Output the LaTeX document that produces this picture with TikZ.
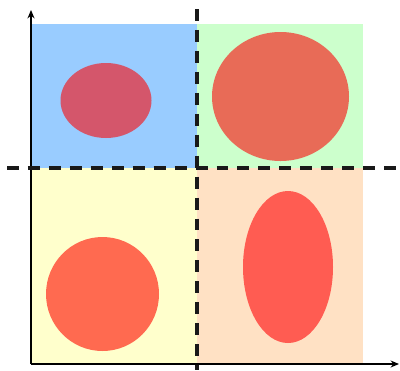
\documentclass[tikz,border=0pt]{standalone}
\usepackage{tikz}
\usetikzlibrary{arrows.meta}
\definecolor{QuadBlue}{HTML}{99CCFF}
\definecolor{QuadGreen}{HTML}{CCFFCC}
\definecolor{QuadYellow}{HTML}{FFFFCC}
\definecolor{QuadOrange}{HTML}{FFE1C4}
\definecolor{BlobPlum}{HTML}{D4566B}
\definecolor{BlobCoral}{HTML}{E86B57}
\definecolor{BlobTomato}{HTML}{FF6A50}
\definecolor{BlobRed}{HTML}{FF5C52}

\begin{document}
\begin{tikzpicture}[x=0.025cm, y=-0.025cm, axis/.style={-{Stealth[length=6pt, width=5pt]}, line width=0.8pt}, divider/.style={line width=2.5pt, dash pattern=on 8.5pt off 6.4pt, black!90}]
  \useasboundingbox (0,0) rectangle (400,370);
  \coordinate (origin) at (31,364);
  \coordinate (xend) at (399,364);
  \coordinate (yend) at (31,10);
  \coordinate (vtop) at (197,9);
  \coordinate (vbot) at (197,370);
  \coordinate (hleft) at (7,168);
  \coordinate (hright) at (400,168);
  % quadrants
  \fill[QuadBlue] (31,24) rectangle (197,168);
  \fill[QuadGreen] (197,24) rectangle (363,168);
  \fill[QuadYellow] (31,168) rectangle (197,364);
  \fill[QuadOrange] (197,168) rectangle (363,364);
  % blobs
  \fill[BlobPlum] (106,100.5) ellipse [x radius=45.5, y radius=37.5];
  \fill[BlobCoral] (280.5,96.5) ellipse [x radius=68.5, y radius=64.5];
  \fill[BlobTomato] (102.5,294) ellipse [x radius=56.5, y radius=57];
  \fill[BlobRed] (288,267) ellipse [x radius=45, y radius=76];
  % axes and dividers
  \draw[axis] (origin) -- (xend);
  \draw[axis] (origin) -- (yend);
  \draw[divider] (vtop) -- (vbot);
  \draw[divider] (hleft) -- (hright);
\end{tikzpicture}
\end{document}
